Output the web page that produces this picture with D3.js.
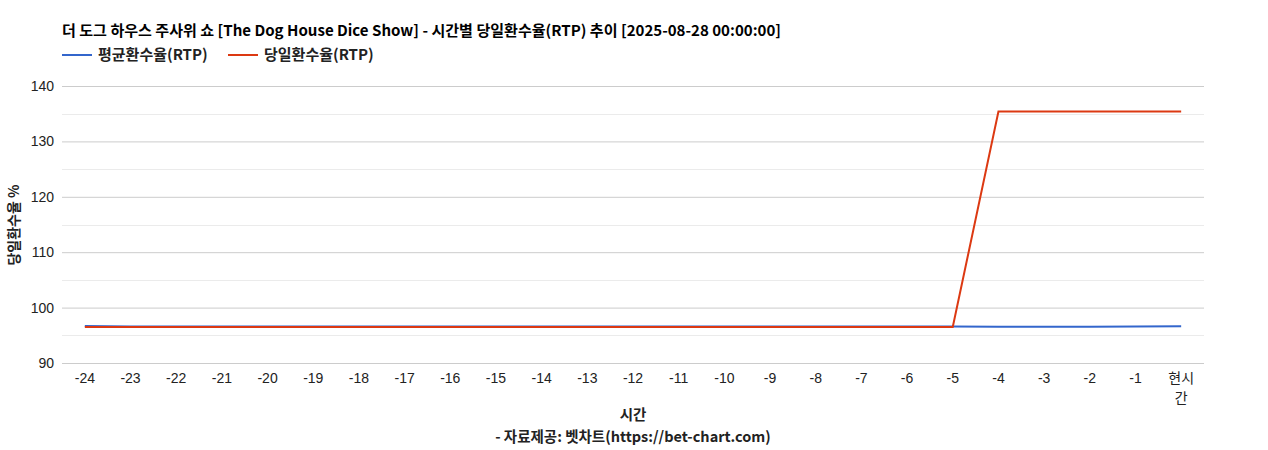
<!DOCTYPE html>
<html><head><meta charset="utf-8">
<script src="https://cdn.jsdelivr.net/npm/d3@7"></script>
<style>body{margin:0;background:#fff}svg{display:block}</style>
</head><body>
<svg id="c" width="1268" height="450"></svg>
<script>
const categories = ["-24","-23","-22","-21","-20","-19","-18","-17","-16","-15","-14","-13","-12","-11","-10","-9","-8","-7","-6","-5","-4","-3","-2","-1","현시간"];
const avgRTP = [96.66,96.58,96.58,96.58,96.58,96.58,96.58,96.58,96.58,96.58,96.58,96.58,96.58,96.58,96.58,96.58,96.58,96.58,96.58,96.58,96.56,96.56,96.56,96.6,96.62];
const dayRTP = [96.5,96.5,96.5,96.5,96.5,96.5,96.5,96.5,96.5,96.5,96.5,96.5,96.5,96.5,96.5,96.5,96.5,96.5,96.5,96.5,135.4,135.4,135.4,135.4,135.4];
const yTicks = [90,100,110,120,130,140];
const yMinor = [95,105,115,125,135];
const seriesNames = ["평균환수율(RTP)","당일환수율(RTP)"];
const colors = ["#3366cc","#dc3912"];
const titleText = "더 도그 하우스 주사위 쇼 [The Dog House Dice Show] - 시간별 당일환수율(RTP) 추이 [2025-08-28 00:00:00]";

(function(){
const svg = d3.select("#c");
const pL = 62, pR = 1204, pT = 86, pB = 363;
const x = d3.scaleBand().domain(categories).range([pL, pR]);
const y = d3.scaleLinear().domain([90,140]).range([pB, pT]);
const kfont = "'Noto Sans CJK KR', 'Noto Sans', sans-serif";
const afont = "'Liberation Sans', Arial, sans-serif";

svg.append("text").attr("x", 62).attr("y", 36).attr("font-family", kfont).attr("font-weight","bold")
  .attr("font-size", 15).attr("fill","#000").attr("textLength",719).attr("lengthAdjust","spacingAndGlyphs").text(titleText);

const lg = [{x:62},{x:228}];
seriesNames.forEach((n,i)=>{
  svg.append("line").attr("x1",lg[i].x).attr("x2",lg[i].x+30).attr("y1",55).attr("y2",55)
    .attr("stroke",colors[i]).attr("stroke-width",2);
  svg.append("text").attr("x",lg[i].x+36).attr("y",60).attr("font-family",kfont).attr("font-weight","bold")
    .attr("font-size",15).attr("fill","#222").text(n);
});

svg.append("g").selectAll("line").data(yMinor).join("line")
  .attr("x1",pL).attr("x2",pR).attr("y1",d=>Math.round(y(d))+0.5).attr("y2",d=>Math.round(y(d))+0.5)
  .attr("stroke","#ebebeb").attr("stroke-width",1);
const ya = svg.append("g").attr("transform",`translate(${pL},0)`)
  .call(d3.axisLeft(y).tickValues(yTicks).tickSize(-(pR-pL)).tickFormat(d3.format("d")));
ya.select(".domain").remove();
ya.selectAll(".tick line").attr("stroke","#cccccc");
ya.selectAll(".tick text").attr("x",-8).attr("font-family",afont).attr("font-size",14).attr("fill","#222");

const xa = svg.append("g").attr("transform",`translate(0,${pB})`)
  .call(d3.axisBottom(x).tickSize(0));
xa.select(".domain").remove();
xa.selectAll(".tick text").attr("font-family",afont).attr("font-size",14).attr("fill","#222").attr("dy",0).attr("y",20)
  .each(function(d){
    if(d==="현시간"){
      const t=d3.select(this); t.text(null);
      t.append("tspan").attr("x",0).attr("y",20).text("현시");
      t.append("tspan").attr("x",0).attr("y",40).text("간");
      t.attr("font-family",kfont);
    }
  });

const line = d3.line().x((d,i)=>x(categories[i])+x.bandwidth()/2).y(d=>y(d));
[avgRTP, dayRTP].forEach((s,i)=>{
  svg.append("path").datum(s).attr("d",line).attr("fill","none").attr("stroke",colors[i]).attr("stroke-width",2);
});

svg.append("text").attr("transform",`translate(19,225) rotate(-90)`).attr("text-anchor","middle")
  .attr("font-family",kfont).attr("font-weight","bold").attr("font-size",14).attr("fill","#222").text("당일환수율 %");
svg.append("text").attr("x",633).attr("y",420).attr("text-anchor","middle")
  .attr("font-family",kfont).attr("font-weight","bold").attr("font-size",14.5).attr("fill","#222").text("시간");
svg.append("text").attr("x",633).attr("y",442).attr("text-anchor","middle")
  .attr("font-family",kfont).attr("font-weight","bold").attr("font-size",14.5).attr("fill","#222").text("- 자료제공: 벳차트(https://bet-chart.com)");
})();
</script>
</body></html>
